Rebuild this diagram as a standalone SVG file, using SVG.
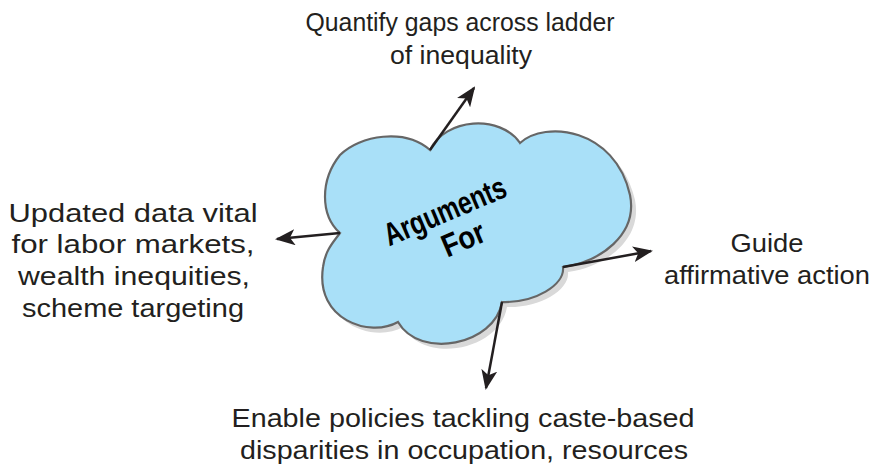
<svg xmlns="http://www.w3.org/2000/svg" width="886" height="474" viewBox="0 0 886 474">
<style>
.lbl{font-family:"Liberation Sans",Arial,sans-serif;font-size:26px;fill:#231f20;text-anchor:middle}
.con{stroke:#231f20;stroke-width:2.5;fill:none;marker-end:url(#ah)}
.cloud{fill:#a9e0f8;stroke:#666;stroke-width:2.2}
.shadow{fill:#d9d9d9}
.title{font-family:"Liberation Sans Narrow","Liberation Sans",Arial,sans-serif;font-weight:bold;font-size:32px;fill:#000;text-anchor:middle}
</style>
<defs>
<marker id="ah" viewBox="0 0 20 16" refX="18" refY="8" markerWidth="20" markerHeight="16" markerUnits="userSpaceOnUse" orient="auto">
<path d="M0,0 L20,8 L0,16 L5,8 Z" fill="#231f20"/>
</marker>
<path id="cloudPath" d="M430,150 C445,118 500,114 520,143 C545,120 615,128 630,195 C638,235 600,262 563,267 C565,285 535,303 502,302 C495,345 420,360 398,322 C370,338 315,320 323,267 C325,250 335,240 340,233 C320,215 320,180 340,155 C360,135 405,128 430,150 Z"/>
</defs>
<g id="cloud">
<use href="#cloudPath" class="shadow" transform="translate(5,5)"/>
<use href="#cloudPath" class="cloud"/>
<g transform="translate(449,221) rotate(-23)">
<text class="title" x="0" y="0" textLength="130" lengthAdjust="spacingAndGlyphs">Arguments</text>
<text class="title" x="6" y="33" textLength="44" lengthAdjust="spacingAndGlyphs">For</text>
</g>
</g>
<g id="connectors">
<line class="con" x1="430" y1="150" x2="474" y2="88"/>
<line class="con" x1="340" y1="233" x2="277" y2="239"/>
<line class="con" x1="563" y1="267" x2="651" y2="251"/>
<line class="con" x1="502" y1="302" x2="486" y2="388"/>
</g>
<g id="top">
<text class="lbl" x="460" y="31" textLength="309" lengthAdjust="spacingAndGlyphs">Quantify gaps across ladder</text>
<text class="lbl" x="461" y="64" textLength="142" lengthAdjust="spacingAndGlyphs">of inequality</text>
</g>
<g id="left">
<text class="lbl" x="133" y="222" textLength="249" lengthAdjust="spacingAndGlyphs">Updated data vital</text>
<text class="lbl" x="133" y="253" textLength="243" lengthAdjust="spacingAndGlyphs">for labor markets,</text>
<text class="lbl" x="134" y="285" textLength="232" lengthAdjust="spacingAndGlyphs">wealth inequities,</text>
<text class="lbl" x="133" y="317" textLength="222" lengthAdjust="spacingAndGlyphs">scheme targeting</text>
</g>
<g id="right">
<text class="lbl" x="767" y="252" textLength="73" lengthAdjust="spacingAndGlyphs">Guide</text>
<text class="lbl" x="767" y="284" textLength="206" lengthAdjust="spacingAndGlyphs">affirmative action</text>
</g>
<g id="bottom">
<text class="lbl" x="463" y="427" textLength="463" lengthAdjust="spacingAndGlyphs">Enable policies tackling caste-based</text>
<text class="lbl" x="464" y="459" textLength="448" lengthAdjust="spacingAndGlyphs">disparities in occupation, resources</text>
</g>
</svg>
